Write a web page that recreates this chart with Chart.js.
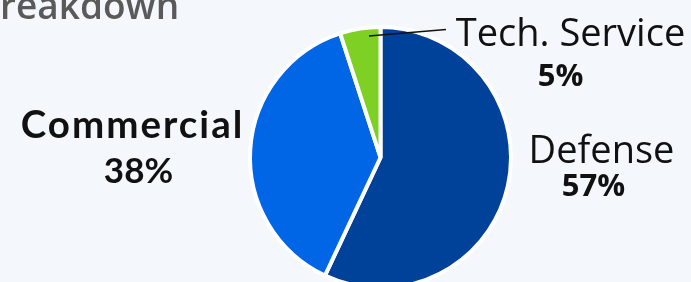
<!DOCTYPE html>
<html>
<head>
<meta charset="utf-8">
<script src="https://cdn.jsdelivr.net/npm/chart.js@4.4.0/dist/chart.umd.min.js"></script>
<style>
  html, body { margin: 0; padding: 0; background: #f4f7fb; overflow: hidden; }
  .wrap { width: 691px; height: 282px; overflow: hidden; position: relative; }
  #chartPie { display: block; }
</style>
</head>
<body>
<div class="wrap">
  <canvas id="chartPie" width="691" height="300"></canvas>
</div>
<script>
// Dados
const categorias = ['Defense', 'Commercial', 'Tech. Service'];
const percentuais = [57, 38, 5];
const rotulosPct = ['57%', '38%', '5%'];
const tituloVisivel = 'reakdown';

const cores = ['#00419a', '#0066e6', '#7fd024'];

// Posicao dos rotulos em relacao ao centro da pizza
const LAYOUT = [
  { name: { dx: 221, dy: 5, font: '500 38px "Open Sans"', sp: 0 },
    pct: { dx: 213, dy: 38, font: '700 31px "Open Sans"', sp: 0 } },
  { name: { dx: -249, dy: -20, font: '700 38.5px Lato', sp: 2 },
    pct: { dx: -242, dy: 25, font: '700 35px Lato', sp: 0 } },
  { name: { dx: 190, dy: -112, font: '500 38px "Open Sans"', sp: 0 },
    pct: { dx: 180, dy: -72, font: '700 31px "Open Sans"', sp: 0 },
    leader: { x1: -11.5, y1: -121.5, x2: 65.5, y2: -128 } }
];

function texto(ctx, t, x, y, font, sp) {
  ctx.font = font;
  ctx.letterSpacing = sp + 'px';
  // compensa o espaco extra no fim ao centralizar
  ctx.fillText(t, x + sp / 2, y);
  ctx.letterSpacing = '0px';
}

const sliceLabels = {
  id: 'sliceLabels',
  afterDraw(chart) {
    const ctx = chart.ctx;
    const arc = chart.getDatasetMeta(0).data[0];
    const cx = arc.x, cy = arc.y;
    ctx.save();

    // titulo cortado no topo
    ctx.fillStyle = '#5a5a5a';
    ctx.font = '600 37px "Open Sans"';
    ctx.textAlign = 'left';
    ctx.textBaseline = 'alphabetic';
    ctx.fillText(tituloVisivel, 0, 19);

    ctx.fillStyle = '#111111';
    ctx.textAlign = 'center';
    LAYOUT.forEach((l, i) => {
      texto(ctx, categorias[i], cx + l.name.dx, cy + l.name.dy, l.name.font, l.name.sp);
      texto(ctx, rotulosPct[i], cx + l.pct.dx, cy + l.pct.dy, l.pct.font, l.pct.sp);
      if (l.leader) {
        ctx.strokeStyle = '#111111';
        ctx.lineWidth = 1.5;
        ctx.beginPath();
        ctx.moveTo(cx + l.leader.x1, cy + l.leader.y1);
        ctx.lineTo(cx + l.leader.x2, cy + l.leader.y2);
        ctx.stroke();
      }
    });
    ctx.restore();
  }
};

new Chart(document.getElementById('chartPie'), {
  type: 'pie',
  data: {
    labels: categorias,
    datasets: [{
      data: percentuais,
      backgroundColor: cores,
      borderColor: '#ffffff',
      borderWidth: 4
    }]
  },
  options: {
    responsive: false,
    animation: false,
    layout: { padding: { top: 25, bottom: 10, left: 248, right: 178 } },
    plugins: {
      legend: { display: false },
      tooltip: { enabled: false }
    }
  },
  plugins: [sliceLabels]
});
</script>
</body>
</html>
